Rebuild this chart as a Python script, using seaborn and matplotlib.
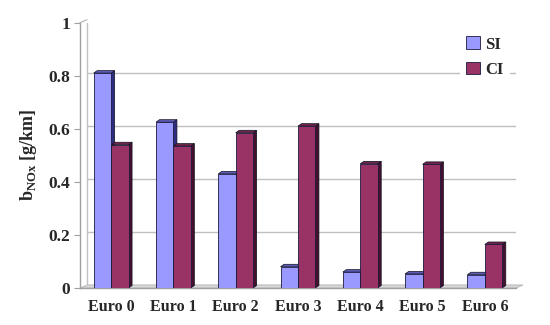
import numpy as np
import pandas as pd
import matplotlib
matplotlib.use('Agg')
import matplotlib.pyplot as plt
import matplotlib.transforms as mtransforms
from matplotlib.patches import Polygon, Patch
import seaborn as sns

# ── DATA ──────────────────────────────────────────────────────────────
categories = ['Euro 0', 'Euro 1', 'Euro 2', 'Euro 3', 'Euro 4', 'Euro 5', 'Euro 6']
si_values  = [0.81, 0.625, 0.43, 0.08, 0.06, 0.053, 0.05]
ci_values  = [0.54, 0.535, 0.585, 0.61, 0.468, 0.466, 0.164]
series     = ['SI', 'CI']
y_ticks    = [0, 0.2, 0.4, 0.6, 0.8, 1]
y_labels   = ['0', '0.2', '0.4', '0.6', '0.8', '1']

df = pd.DataFrame({
    'category': categories * 2,
    'series':   ['SI'] * len(categories) + ['CI'] * len(categories),
    'value':    si_values + ci_values,
})

# Excel-like colours: front, top, side
front = {'SI': '#9999FF', 'CI': '#993366'}
top   = {'SI': '#5B5BB5', 'CI': '#6E2448'}
side  = {'SI': '#2E2E80', 'CI': '#45102C'}
grid_col = '#C0C0C0'

sns.set_style('white')
plt.rcParams['font.family'] = ['Liberation Serif', 'DejaVu Serif']
plt.rcParams['font.weight'] = 'bold'
plt.rcParams['mathtext.fontset'] = 'custom'
plt.rcParams['mathtext.rm'] = 'Liberation Serif:bold'
plt.rcParams['mathtext.bf'] = 'Liberation Serif:bold'

fig = plt.figure(figsize=(5.5, 3.25), dpi=100)
ax = fig.add_axes([80 / 550, 37 / 325, 436 / 550, 265.3 / 325])
ax.set_xlim(-0.5, 6.5)
ax.set_ylim(0, 1)

# pixel → data conversion for the 3D depth
px_x = 7 / 436
px_y = 1 / 265.3

# back wall gridlines, shifted by the 3D depth
back = mtransforms.offset_copy(ax.transData, fig=fig, x=7, y=3, units='dots')
ax.hlines(y_ticks, -0.5, 6.5, colors=grid_col, lw=1, transform=back, zorder=0)
ax.vlines([-0.5, 6.5], 0, 1, colors=grid_col, lw=1, transform=back, zorder=0)

# floor
floor = Polygon([(-0.5, 0), (6.5, 0), (6.5 + 7 * px_x, 3 * px_y), (-0.5 + 7 * px_x, 3 * px_y)],
                closed=True, facecolor='#D8D8D8', edgecolor=grid_col, lw=0.8, zorder=0.5,
                clip_on=False)
ax.add_patch(floor)
# left side wall top edge
ax.plot([-0.5, -0.5 + 7 * px_x], [1, 1 + 3 * px_y], color=grid_col, lw=1, clip_on=False)

sns.barplot(data=df, x='category', y='value', hue='series', order=categories,
            hue_order=series, palette=front, saturation=1, width=0.56, gap=0,
            edgecolor='#1A1A40', linewidth=0.6, ax=ax, zorder=3, legend=False)

# 3D side and top faces computed from each bar
dx, dy = 3.5 * px_x, 2.5 * px_y
n = len(categories)
for s, cont in zip(series, ax.containers):
    for bar in cont:
        x, w, h = bar.get_x(), bar.get_width(), bar.get_height()
        ax.add_patch(Polygon([(x + w, 0), (x + w, h), (x + w + dx, h + dy), (x + w + dx, dy)],
                             closed=True, facecolor=side[s], edgecolor='#111122', lw=0.5, zorder=2.5))
        ax.add_patch(Polygon([(x, h), (x + w, h), (x + w + dx, h + dy), (x + dx, h + dy)],
                             closed=True, facecolor=top[s], edgecolor='#111122', lw=0.5, zorder=2.5))

# axes styling
for sp in ['top', 'right']:
    ax.spines[sp].set_visible(False)
for sp in ['left', 'bottom']:
    ax.spines[sp].set_color('#A0A0A0')
    ax.spines[sp].set_linewidth(1)

ax.set_yticks(y_ticks)
ax.set_yticklabels(y_labels, fontsize=12.5, fontweight='bold')
ax.set_xticks(range(n))
ax.set_xticklabels(categories, fontsize=11.5, fontweight='bold')
ax.set_xticks(np.arange(-0.5, n, 1), minor=True)
ax.tick_params(axis='x', which='major', length=0, pad=8)
ax.tick_params(axis='x', which='minor', length=4, color='#A0A0A0', direction='out')
ax.tick_params(axis='y', length=4, color='#A0A0A0', direction='out', pad=3, left=True)
ax.set_xlabel('')
ax.set_ylabel(r'b$_{\rm NOx}$ [g/km]', fontsize=13, fontweight='bold', labelpad=7)

handles = [Patch(facecolor=front[s], edgecolor='#1A1A40', lw=0.6) for s in series]
leg = ax.legend(handles, series, loc='upper right', bbox_to_anchor=(1.005, 1.005),
                frameon=True, facecolor='white', edgecolor='none', framealpha=1,
                prop={'family': 'Liberation Serif', 'weight': 'bold', 'size': 12},
                handlelength=0.8, handleheight=0.8, handletextpad=0.3,
                labelspacing=0.55, borderpad=0.4, fancybox=False)
leg.set_zorder(5)

fig.savefig('out.png', dpi=100)
